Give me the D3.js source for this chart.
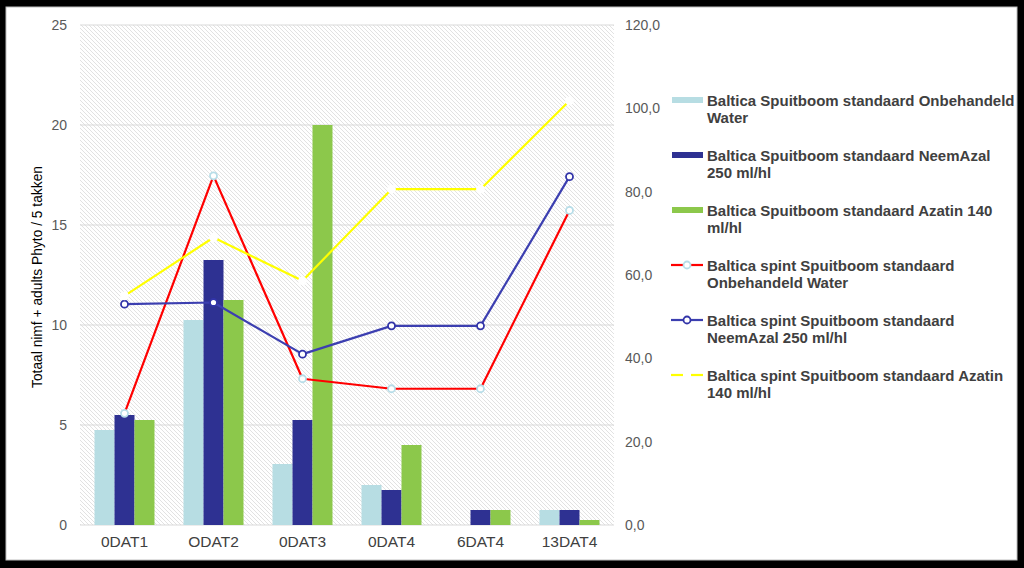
<!DOCTYPE html>
<html><head><meta charset="utf-8">
<script src="https://cdn.jsdelivr.net/npm/d3@7"></script>
<style>body{margin:0;background:#000;} svg{display:block;}</style>
</head><body>
<svg id="c" width="1024" height="568"></svg>
<script>
const categories = ["0DAT1","ODAT2","0DAT3","0DAT4","6DAT4","13DAT4"];
const barOnbehandeld = [4.75, 10.25, 3.05, 2.0, 0, 0.75];
const barNeemAzal = [5.5, 13.25, 5.25, 1.75, 0.75, 0.75];
const barAzatin = [5.25, 11.25, 20.0, 4.0, 0.75, 0.25];
const lineOnbehandeld = [26.8, 83.8, 35.1, 32.7, 32.7, 75.5];
const lineNeemAzal = [53.0, 53.4, 41.0, 47.8, 47.8, 83.6];
const lineAzatin = [55.0, 69.0, 58.6, 80.6, 80.6, 101.8];
const leftTicks = [0,5,10,15,20,25];
const rightTicks = [0,20,40,60,80,100,120];
const legendLines = [["Baltica Spuitboom standaard Onbehandeld","Water"],["Baltica Spuitboom standaard NeemAzal","250 ml/hl"],["Baltica Spuitboom standaard Azatin 140","ml/hl"],["Baltica spint Spuitboom standaard","Onbehandeld Water"],["Baltica spint Spuitboom standaard","NeemAzal 250 ml/hl"],["Baltica spint Spuitboom standaard Azatin","140 ml/hl"]];

const svg = d3.select("#c");
svg.append("rect").attr("x",6).attr("y",7).attr("width",1011).attr("height",553).attr("fill","#fff").attr("stroke","#bfbfbf").attr("stroke-width",1);

const defs = svg.append("defs");
const pat = defs.append("pattern").attr("id","hatch").attr("patternUnits","userSpaceOnUse").attr("width",4).attr("height",4);
pat.append("rect").attr("width",4).attr("height",4).attr("fill","#fff");
pat.append("path").attr("d","M-1,-1 L5,5 M-1,3 L1,5 M3,-1 L5,1").attr("stroke","#e2e2e2").attr("stroke-width",1);

const L = 80, R = 614, T = 25, B = 525;
const x = d3.scaleBand().domain(categories).range([L,R]).paddingInner(0.326).paddingOuter(0.163);
const yL = d3.scaleLinear().domain([0,25]).range([B,T]);
const yR = d3.scaleLinear().domain([0,120]).range([B,T]);

svg.append("rect").attr("x",L).attr("y",T).attr("width",R-L).attr("height",B-T).attr("fill","url(#hatch)");

// gridlines
svg.append("g").selectAll("line").data(leftTicks).join("line")
  .attr("x1",L).attr("x2",R).attr("y1",d=>yL(d)).attr("y2",d=>yL(d))
  .attr("stroke","#d9d9d9").attr("stroke-width",1);

// axes
const axL = svg.append("g").attr("transform",`translate(${L},0)`)
  .call(d3.axisLeft(yL).tickValues(leftTicks).tickSize(0).tickPadding(13).tickFormat(d3.format("d")));
const axR = svg.append("g").attr("transform",`translate(${R},0)`)
  .call(d3.axisRight(yR).tickValues(rightTicks).tickSize(0).tickPadding(11).tickFormat(d=>d.toFixed(1).replace(".",",")));
const axB = svg.append("g").attr("transform",`translate(0,${B})`)
  .call(d3.axisBottom(x).tickSize(0).tickPadding(11));
[axL,axR,axB].forEach(a=>{a.select(".domain").remove(); a.selectAll("text").attr("font-family","Liberation Sans, Arial, sans-serif").attr("font-size",14).attr("fill","#595959");});
axB.selectAll("text").attr("font-size",15.5).attr("fill","#404040");

// bars
const sub = d3.scaleBand().domain([0,1,2]).range([0,x.bandwidth()]);
const barColors = ["#b7dde3","#2e3192","#8cc84b"];
const barSeries = [barOnbehandeld, barNeemAzal, barAzatin];
barSeries.forEach((vals,i)=>{
  svg.append("g").selectAll("rect").data(vals).join("rect")
    .attr("x",(d,j)=>x(categories[j])+sub(i)).attr("width",sub.bandwidth())
    .attr("y",d=>yL(d)).attr("height",d=>B-yL(d)).attr("fill",barColors[i]);
});

// lines
const lineSeries = [
  {vals:lineOnbehandeld, color:"#ff0000", mStroke:"#b7dde8", mFill:"#fff"},
  {vals:lineNeemAzal, color:"#3c3fb0", mStroke:"#3234a8", mFill:"#fff"},
  {vals:lineAzatin, color:"#ffff00", mStroke:"#fff", mFill:"#fff"}
];
const cx = j=>x(categories[j])+x.bandwidth()/2;
lineSeries.forEach(s=>{
  const ln = d3.line().x((d,j)=>cx(j)).y(d=>yR(d));
  svg.append("path").datum(s.vals).attr("d",ln).attr("fill","none").attr("stroke",s.color).attr("stroke-width",2.2).attr("stroke-linejoin","round");
  svg.append("g").selectAll("circle").data(s.vals).join("circle")
    .attr("cx",(d,j)=>cx(j)).attr("cy",d=>yR(d)).attr("r",3.5)
    .attr("fill",s.mFill).attr("stroke",s.mStroke).attr("stroke-width",1.8);
});

// y-axis title
svg.append("text").attr("transform","translate(42,277) rotate(-90)").attr("text-anchor","middle")
  .attr("font-family","Liberation Sans, Arial, sans-serif").attr("font-size",13.8).attr("fill","#000")
  .text("Totaal nimf + adults Phyto / 5 takken");

// legend
const lg = svg.append("g").attr("font-family","Liberation Sans, Arial, sans-serif").attr("font-size",15).attr("font-weight","bold").attr("fill","#404040");
const ly0 = 100, lstep = 55;
legendLines.forEach((lines,i)=>{
  const y0 = ly0 + i*lstep;
  const g = lg.append("g");
  if(i<3){
    g.append("rect").attr("x",672).attr("y",y0-3).attr("width",31).attr("height",6).attr("fill",barColors[i]);
  } else {
    const s = lineSeries[i-3];
    if(i===5){
      g.append("line").attr("x1",671).attr("x2",683).attr("y1",y0).attr("y2",y0).attr("stroke",s.color).attr("stroke-width",2.2);
      g.append("line").attr("x1",691).attr("x2",703).attr("y1",y0).attr("y2",y0).attr("stroke",s.color).attr("stroke-width",2.2);
    } else {
      g.append("line").attr("x1",671).attr("x2",703).attr("y1",y0).attr("y2",y0).attr("stroke",s.color).attr("stroke-width",2.2);
      g.append("circle").attr("cx",687).attr("cy",y0).attr("r",3.5).attr("fill",s.mFill).attr("stroke",s.mStroke).attr("stroke-width",1.8);
    }
  }
  lines.forEach((t,k)=>{
    g.append("text").attr("x",707).attr("y",y0+5.5+k*17).text(t);
  });
});
</script>
</body></html>
